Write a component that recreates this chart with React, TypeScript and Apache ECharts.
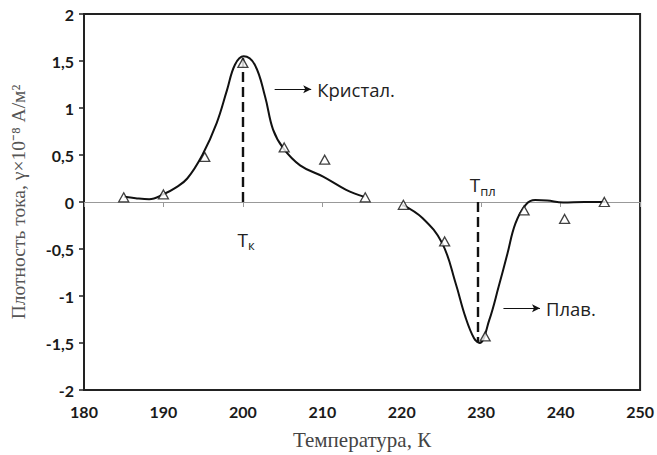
import React, { useEffect, useRef } from "react";
import * as echarts from "echarts";

// measured points (triangles)
const pointsX = [185, 190, 195.2, 200, 205.2, 210.3, 215.4, 220.2, 225.4, 230.5, 235.4, 240.5, 245.5];
const pointsY = [0.05, 0.08, 0.48, 1.48, 0.58, 0.45, 0.05, -0.03, -0.42, -1.43, -0.09, -0.18, 0.0];

// fitted curve, crystallisation branch
const crystX = [185.05, 186.5, 188.2, 190.06, 191.5, 193, 194.9, 196.7, 198, 199.0, 200.1, 201.5, 202.8, 203.8, 205.1, 207.2, 210.1, 213.0, 215.3];
const crystY = [0.055, 0.04, 0.03, 0.085, 0.15, 0.25, 0.5, 0.84, 1.19, 1.46, 1.55, 1.46, 1.12, 0.77, 0.57, 0.39, 0.27, 0.13, 0.055];

// fitted curve, melting branch
const meltX = [220.1, 222.6, 225.1, 226.8, 228.0, 229.1, 229.8, 231.0, 232.2, 233.3, 234.3, 235.6, 236.8, 238.3, 240.3, 243.0, 245.6];
const meltY = [-0.03, -0.17, -0.44, -0.87, -1.22, -1.45, -1.5, -1.26, -0.9, -0.55, -0.23, -0.03, 0.02, 0.015, -0.005, 0.0, 0.0];

const xTicks = [180, 190, 200, 210, 220, 230, 240, 250];
const yTicks = [-2, -1.5, -1, -0.5, 0, 0.5, 1, 1.5, 2];

// annotations
const tkX = 200;
const tkTop = 1.53;
const tplX = 229.6;
const tplBottom = -1.5;
const arrowCryst = [[204, 1.2], [208.6, 1.2]];
const arrowMelt = [[232.8, -1.13], [237.4, -1.13]];

const zip = (xs: number[], ys: number[]) => xs.map((x, i) => [x, ys[i]]);

export default function App() {
  const ref = useRef<HTMLDivElement>(null);
  useEffect(() => {
    if (!ref.current) return;
    const chart = echarts.init(ref.current, null, { renderer: "svg" });
    const tickFont = { fontFamily: "Lato", fontWeight: "bold" as const, fontSize: 16, color: "#1a1a1a" };
    const annFont = { fontFamily: "Open Sans", fontSize: 18.5, color: "#222", textBorderWidth: 0 };
    const subRich = {
      a: { fontFamily: "Open Sans", fontSize: 19, color: "#222", textBorderWidth: 0 },
      b: { fontFamily: "Open Sans", fontSize: 13, color: "#222", textBorderWidth: 0, padding: [11, 0, 0, 0] },
    };
    chart.setOption({
      animation: false,
      backgroundColor: "#fff",
      grid: { left: 83, right: 15, top: 14, bottom: 65, show: true, borderColor: "#222", borderWidth: 2, containLabel: false },
      xAxis: [
        {
          type: "value", min: xTicks[0], max: xTicks[xTicks.length - 1], interval: 10,
          position: "bottom",
          axisLine: { onZero: false, lineStyle: { color: "#222", width: 2 } },
          axisTick: { show: false },
          splitLine: { show: false },
          axisLabel: { ...tickFont, margin: 13 },
          name: "Температура, К", nameLocation: "middle", nameGap: 39,
          nameTextStyle: { fontFamily: "Liberation Serif", fontSize: 21, color: "#444" },
        },
        {
          type: "value", min: xTicks[0], max: xTicks[xTicks.length - 1], interval: 10,
          position: "bottom",
          axisLine: { onZero: true, lineStyle: { color: "#999", width: 1 } },
          axisTick: { show: true, length: 5, lineStyle: { color: "#999" } },
          axisLabel: { show: false },
          splitLine: { show: false },
        },
      ],
      yAxis: {
        type: "value", min: yTicks[0], max: yTicks[yTicks.length - 1], interval: 0.5,
        axisLine: { show: true, lineStyle: { color: "#222", width: 2 } },
        axisTick: { show: true, length: 5, lineStyle: { color: "#222", width: 1.5 } },
        splitLine: { show: false },
        axisLabel: { ...tickFont, margin: 10, formatter: (v: number) => String(v).replace(".", ",") },
        name: "Плотность тока, γ×10⁻⁸ А/м²", nameLocation: "middle", nameGap: 56, nameRotate: 90,
        nameTextStyle: { fontFamily: "Liberation Serif", fontSize: 19.5, color: "#555" },
      },
      series: [
        {
          type: "line", data: zip(crystX, crystY), smooth: 0.4, showSymbol: false,
          lineStyle: { color: "#111", width: 2 },
          markLine: {
            silent: true, symbol: ["none", "none"],
            data: [
              [
                { coord: [tkX, 0], lineStyle: { type: [10, 5], color: "#111", width: 2.4 } },
                { coord: [tkX, tkTop] },
              ],
              [
                { coord: arrowCryst[0], lineStyle: { type: "solid", color: "#111", width: 1 }, symbol: "none" },
                { coord: arrowCryst[1], symbol: "arrow", symbolSize: [6, 8],
                  label: { show: true, position: "end", formatter: "Кристал.", distance: 6, ...annFont } },
              ],
            ],
            label: { show: false },
          },
          markPoint: {
            silent: true, symbol: "circle", symbolSize: 0,
            label: { color: "#222", textBorderWidth: 0 },
            data: [
              { coord: [tkX + 0.4, -0.4], label: { show: true, color: "#222", textBorderWidth: 0, formatter: "{a|T}{b|к}", rich: subRich } },
            ],
          },
        },
        {
          type: "line", data: zip(meltX, meltY), smooth: 0.4, showSymbol: false,
          lineStyle: { color: "#111", width: 2 },
          markLine: {
            silent: true, symbol: ["none", "none"],
            data: [
              [
                { coord: [tplX, 0], lineStyle: { type: [10, 5], color: "#111", width: 2.4 } },
                { coord: [tplX, tplBottom] },
              ],
              [
                { coord: arrowMelt[0], lineStyle: { type: "solid", color: "#111", width: 1 }, symbol: "none" },
                { coord: arrowMelt[1], symbol: "arrow", symbolSize: [6, 8],
                  label: { show: true, position: "end", formatter: "Плав.", distance: 6, ...annFont } },
              ],
            ],
            label: { show: false },
          },
          markPoint: {
            silent: true, symbol: "circle", symbolSize: 0,
            label: { color: "#222", textBorderWidth: 0 },
            data: [
              { coord: [tplX + 0.6, 0.18], label: { show: true, color: "#222", textBorderWidth: 0, formatter: "{a|T}{b|пл}", rich: subRich } },
            ],
          },
        },
        {
          type: "scatter", data: zip(pointsX, pointsY), symbol: "triangle", symbolSize: [10, 9],
          itemStyle: { color: "#fff", borderColor: "#111", borderWidth: 1.3 },
          z: 5,
        },
      ],
    });
    return () => chart.dispose();
  }, []);
  return <div ref={ref} style={{ width: 657, height: 455, position: "absolute", left: 0, top: 0 }} />;
}
